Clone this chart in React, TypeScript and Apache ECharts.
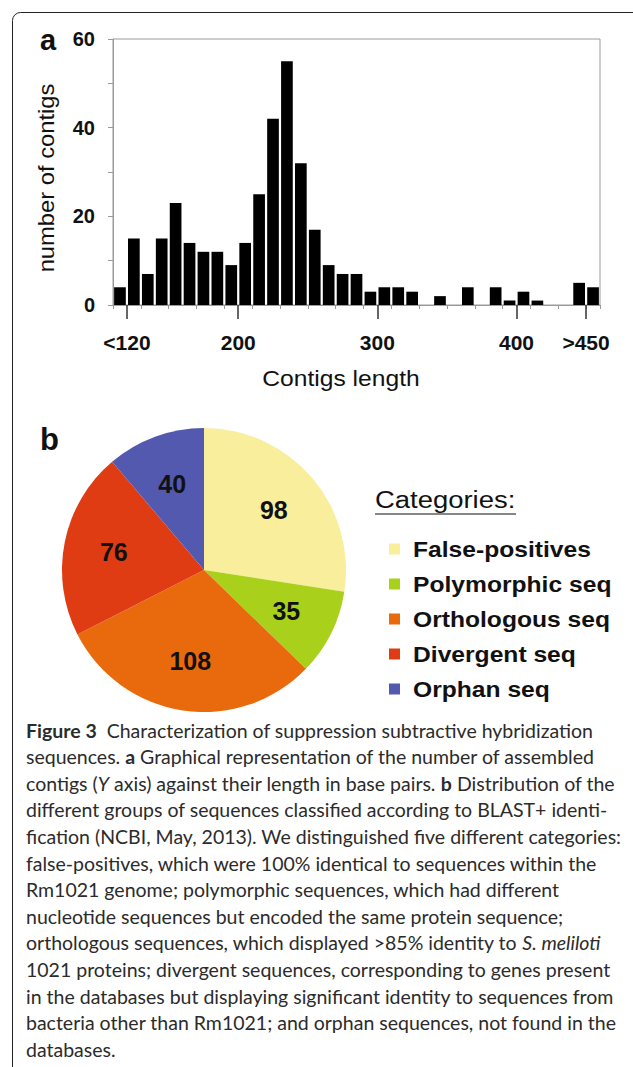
import React, { useEffect, useRef } from "react";
import * as echarts from "echarts";

// ---- Panel a: histogram of contig lengths (10 bp bins) ----
const lengthBins = [
  "110", "120", "130", "140", "150", "160", "170", "180", "190", "200",
  "210", "220", "230", "240", "250", "260", "270", "280", "290", "300",
  "310", "320", "330", "340", "350", "360", "370", "380", "390", "400",
  "410", "420", "430", "440", "450",
];
const contigCounts = [
  4, 15, 7, 15, 23, 14, 12, 12, 9, 14,
  25, 42, 55, 32, 17, 9, 7, 7, 3, 4,
  4, 3, 0, 2, 0, 4, 0, 4, 1, 3,
  1, 0, 0, 5, 4,
];
const xTickValues = [120, 200, 300, 400, 450];
const xTickLabels = ["<120", "200", "300", "400", ">450"];
const yLabelValues = [0, 20, 40, 60];

// ---- Panel b: categories ----
const categoryNames = [
  "False-positives",
  "Polymorphic seq",
  "Orthologous seq",
  "Divergent seq",
  "Orphan seq",
];
const categoryCounts = [98, 35, 108, 76, 40];
const categoryColors = ["#F9EE9B", "#A9D11C", "#E96A0D", "#DF3C14", "#5259AE"];

const captionLines = [
  "{b|Figure 3}  Characterization of suppression subtractive hybridization",
  "sequences. {b|a} Graphical representation of the number of assembled",
  "contigs ({i|Y} axis) against their length in base pairs. {b|b} Distribution of the",
  "different groups of sequences classified according to BLAST+ identi-",
  "fication (NCBI, May, 2013). We distinguished five different categories:",
  "false-positives, which were 100% identical to sequences within the",
  "Rm1021 genome; polymorphic sequences, which had different",
  "nucleotide sequences but encoded the same protein sequence;",
  "orthologous sequences, which displayed >85% identity to {i|S. meliloti}",
  "1021 proteins; divergent sequences, corresponding to genes present",
  "in the databases but displaying significant identity to sequences from",
  "bacteria other than Rm1021; and orphan sequences, not found in the",
  "databases.",
];

const SANS = "'Liberation Sans', Arial, sans-serif";
const CAP = "Lato, 'Open Sans', sans-serif";
const STRETCH = 1.12;

export default function App() {
  const ref = useRef<HTMLDivElement>(null);

  useEffect(() => {
    if (!ref.current) return;
    const chart = echarts.init(ref.current, undefined, { renderer: "svg" });

    const capSize = 19.5;
    const capColor = "#2b2b2b";
    const captionGraphics = captionLines.map((line, i) => ({
      type: "text",
      left: 26,
      top: 720 + i * 26.6,
      style: {
        text: line,
        font: `${capSize}px ${CAP}`,
        fill: capColor,
        rich: {
          b: { fontWeight: "bold", fontSize: capSize, fontFamily: CAP, fill: capColor },
          i: { fontStyle: "italic", fontSize: capSize, fontFamily: CAP, fill: capColor },
        },
      },
    }));

    const legendGraphics: any[] = [];
    categoryNames.forEach((name, i) => {
      const cy = 549 + i * 35;
      legendGraphics.push({
        type: "rect",
        shape: { x: 389, y: cy - 5.5, width: 11, height: 11 },
        style: { fill: categoryColors[i] },
        silent: true,
      });
      legendGraphics.push({
        type: "text",
        x: 413,
        y: cy,
        scaleX: STRETCH,
        style: {
          text: name,
          font: `bold 22px ${SANS}`,
          fill: "#111",
          align: "left",
          verticalAlign: "middle",
        },
      });
    });

    const option: any = {
      animation: false,
      grid: {
        left: 113,
        right: 33,
        top: 39,
        bottom: 762,
        show: true,
        borderColor: "#9a9a9a",
        borderWidth: 1,
        containLabel: false,
      },
      xAxis: [
        {
          type: "category",
          data: lengthBins,
          boundaryGap: true,
          axisLine: { show: true, lineStyle: { color: "#9a9a9a", width: 1 } },
          axisTick: { show: true, length: 4, lineStyle: { color: "#9a9a9a" } },
          axisLabel: { show: false },
          splitLine: { show: false },
        },
        {
          type: "value",
          min: 110,
          max: 460,
          position: "bottom",
          axisLine: { show: false },
          splitLine: { show: false },
          axisTick: {
            show: true,
            customValues: xTickValues,
            length: 14,
            lineStyle: { color: "#333", width: 1.5 },
          },
          axisLabel: {
            show: true,
            customValues: xTickValues,
            formatter: (v: number) => xTickLabels[xTickValues.indexOf(v)] ?? "",
            fontFamily: SANS,
            fontWeight: "bold",
            fontSize: 21,
            color: "#111",
            margin: 27,
          },
        },
      ],
      yAxis: {
        type: "value",
        min: 0,
        max: 60,
        interval: 10,
        axisLine: { show: true, lineStyle: { color: "#9a9a9a" } },
        axisTick: { show: true, length: 5, lineStyle: { color: "#9a9a9a" } },
        splitLine: { show: false },
        axisLabel: {
          formatter: (v: number) => (yLabelValues.indexOf(v) >= 0 ? String(v) : ""),
          fontFamily: SANS,
          fontWeight: "bold",
          fontSize: 20,
          color: "#111",
          margin: 18,
        },
      },
      series: [
        {
          type: "bar",
          xAxisIndex: 0,
          yAxisIndex: 0,
          data: contigCounts,
          barCategoryGap: "16%",
          itemStyle: { color: "#000" },
          silent: true,
        },
        {
          type: "pie",
          center: [204, 570],
          radius: 142,
          startAngle: 90,
          clockwise: true,
          silent: true,
          label: { show: false },
          labelLine: { show: false },
          data: categoryNames.map((name, i) => ({
            name,
            value: categoryCounts[i],
            itemStyle: { color: categoryColors[i] },
          })),
        },
        {
          type: "pie",
          center: [204, 570],
          radius: [36, 142],
          startAngle: 90,
          clockwise: true,
          silent: true,
          itemStyle: { color: "rgba(0,0,0,0)" },
          label: {
            show: true,
            position: "inside",
            formatter: "{c}",
            fontFamily: SANS,
            fontWeight: "bold",
            fontSize: 25,
            color: "#111",
          },
          labelLine: { show: false },
          data: categoryNames.map((name, i) => ({
            name: name + " ",
            value: categoryCounts[i],
          })),
        },
      ],
      graphic: [
        {
          type: "rect",
          shape: { x: 12.5, y: 12.5, width: 640, height: 1100, r: 8 },
          style: { fill: "none", stroke: "#222", lineWidth: 1 },
          silent: true,
        },
        {
          type: "text",
          left: 40,
          top: 25,
          style: { text: "a", font: `bold 29px ${SANS}`, fill: "#111" },
        },
        {
          type: "text",
          left: 40,
          top: 424,
          style: { text: "b", font: `bold 31px ${SANS}`, fill: "#111" },
        },
        {
          type: "text",
          x: 47,
          y: 178,
          rotation: Math.PI / 2,
          scaleX: STRETCH,
          style: {
            text: "number of contigs",
            font: `21.2px ${SANS}`,
            fill: "#111",
            align: "center",
            verticalAlign: "middle",
          },
        },
        {
          type: "text",
          x: 341,
          y: 378,
          scaleX: STRETCH,
          style: {
            text: "Contigs length",
            font: `22px ${SANS}`,
            fill: "#111",
            align: "center",
            verticalAlign: "middle",
          },
        },
        {
          type: "text",
          x: 375,
          y: 500,
          scaleX: STRETCH,
          style: {
            text: "Categories:",
            font: `24.5px ${SANS}`,
            fill: "#111",
            align: "left",
            verticalAlign: "middle",
          },
        },
        {
          type: "line",
          shape: { x1: 375, y1: 514, x2: 516, y2: 514 },
          style: { stroke: "#111", lineWidth: 1.2 },
        },
        ...legendGraphics,
        ...captionGraphics,
      ],
    };

    chart.setOption(option);
    return () => chart.dispose();
  }, []);

  return (
    <div
      ref={ref}
      style={{ position: "fixed", left: 0, top: 0, width: 633, height: 1067, background: "#fff" }}
    />
  );
}
